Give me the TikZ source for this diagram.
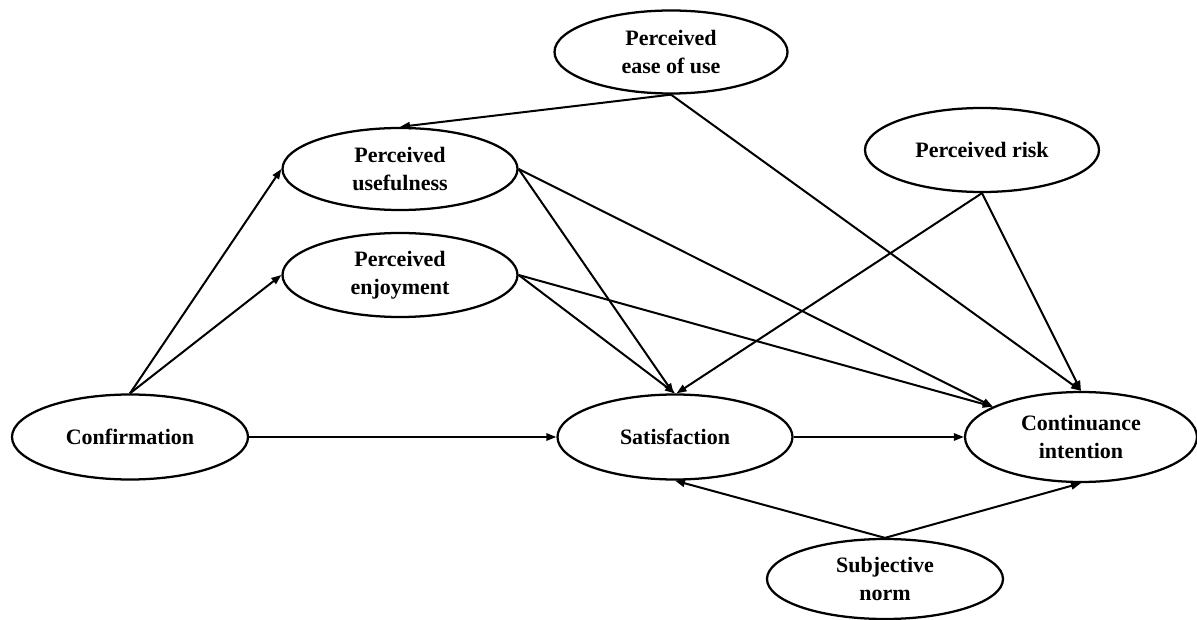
\documentclass[tikz,border=0pt]{standalone}
\usepackage{fontspec}
\setmainfont{Liberation Serif}
\usetikzlibrary{shapes.geometric,arrows.meta}
\begin{document}
\begin{tikzpicture}[x=0.75pt,y=-0.75pt,
  construct/.style={ellipse,draw,line width=1.7pt,inner sep=0pt,align=center,
    font=\fontsize{16.5}{21}\selectfont\bfseries},
  link/.style={line width=1.5pt,-{Triangle[length=7.5pt,width=5.5pt]}}]
\useasboundingbox (0,0) rectangle (1197,620);
\node[construct,minimum width=174.75pt,minimum height=62.25pt] (ease) at (671,52) {Perceived\\ease of use};
\node[construct,minimum width=176.25pt,minimum height=61.5pt] (useful) at (400,169) {Perceived\\usefulness};
\node[construct,minimum width=176.25pt,minimum height=63pt] (enjoy) at (400,275) {Perceived\\enjoyment};
\node[construct,minimum width=175.5pt,minimum height=63pt] (risk) at (982,150) {Perceived risk};
\node[construct,minimum width=177pt,minimum height=63.75pt] (conf) at (130,437) {Confirmation};
\node[construct,minimum width=176.25pt,minimum height=63.75pt] (satis) at (675,437) {Satisfaction};
\node[construct,minimum width=174pt,minimum height=67.5pt] (cont) at (1081,437) {Continuance\\intention};
\node[construct,minimum width=177pt,minimum height=60pt] (subj) at (885,579) {Subjective\\norm};
% connectors
\draw[link] (ease.south) -- (useful.north);
\draw[link] (ease.south) -- (cont.north);
\draw[link] (conf.north) -- (useful.west);
\draw[link] (conf.north) -- (enjoy.west);
\draw[link] (conf.east) -- (satis.west);
\draw[link] (useful.east) -- (satis.92);
\draw[link] (useful.east) -- (cont.161);
\draw[link] (enjoy.east) -- (satis.north);
\draw[link] (enjoy.east) -- (cont.161);
\draw[link] (risk.south) -- (satis.88);
\draw[link] (risk.south) -- (cont.north);
\draw[link] (satis.east) -- (cont.west);
\draw[link] (subj.north) -- (satis.south);
\draw[link] (subj.north) -- (cont.south);
\end{tikzpicture}
\end{document}
